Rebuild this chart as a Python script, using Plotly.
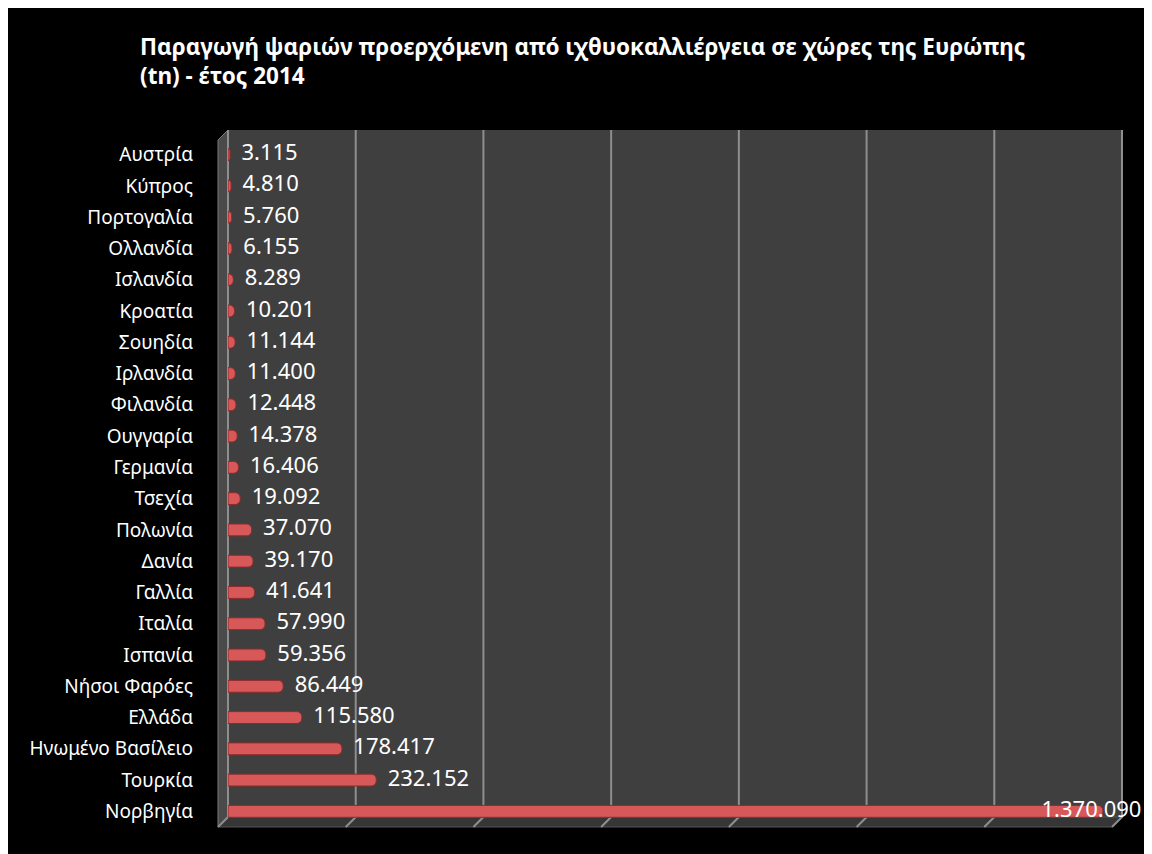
import plotly.graph_objects as go

# ---- data (top to bottom as shown) ----
countries = ["Αυστρία", "Κύπρος", "Πορτογαλία", "Ολλανδία", "Ισλανδία", "Κροατία",
             "Σουηδία", "Ιρλανδία", "Φιλανδία", "Ουγγαρία", "Γερμανία", "Τσεχία",
             "Πολωνία", "Δανία", "Γαλλία", "Ιταλία", "Ισπανία", "Νήσοι Φαρόες",
             "Ελλάδα", "Ηνωμένο Βασίλειο", "Τουρκία", "Νορβηγία"]
production = [3115, 4810, 5760, 6155, 8289, 10201, 11144, 11400, 12448, 14378, 16406,
              19092, 37070, 39170, 41641, 57990, 59356, 86449, 115580, 178417, 232152,
              1370090]
grid_ticks = [0, 200000, 400000, 600000, 800000, 1000000, 1200000, 1400000]
title_text = ("Παραγωγή ψαριών προερχόμενη από ιχθυοκαλλιέργεια σε χώρες της Ευρώπης"
              "<br>(tn) - έτος 2014")

W, H = 1144, 846
ML, MR, MT, MB = 220, 30, 131, 27
PW, PH = W - ML - MR, H - MT - MB
XMAX = 1400000


def px(x):
    return (x - ML) / PW


def py(y):
    return (H - MB - y) / PH


labels = ["  " + f"{v:,}".replace(",", ".") for v in production[:-1]]
labels.append(f"{production[-1]:,}".replace(",", ".") + "    ")
positions = ["middle right"] * (len(production) - 1) + ["middle center"]

fig = go.Figure()
fig.add_trace(go.Bar(
    x=production, y=countries, orientation="h",
    marker=dict(color="#d65858", line=dict(color="#8e2b2b", width=1), cornerradius=5),
    hoverinfo="skip",
))
fig.add_trace(go.Scatter(
    x=production, y=countries, mode="text", text=labels,
    textposition=positions,
    textfont=dict(color="white", size=22, family="Noto Sans"),
    cliponaxis=False, hoverinfo="skip",
))

shapes = []
# back wall
shapes.append(dict(type="rect", xref="paper", yref="paper", x0=px(220), x1=px(1114),
                   y0=py(809), y1=py(122), fillcolor="#3f3f3f", line_width=0, layer="below"))
# floor
shapes.append(dict(type="path", xref="paper", yref="paper",
                   path=(f"M {px(220)} {py(809)} L {px(1114)} {py(809)} "
                         f"L {px(1104)} {py(819)} L {px(210)} {py(819)} Z"),
                   fillcolor="#363636", line=dict(color="#555555", width=1), layer="below"))
# left wall
shapes.append(dict(type="path", xref="paper", yref="paper",
                   path=(f"M {px(210)} {py(132)} L {px(220)} {py(122)} "
                         f"L {px(220)} {py(809)} L {px(210)} {py(819)} Z"),
                   fillcolor="#4a4a4a", line=dict(color="#7a7a7a", width=1), layer="below"))
# gridlines on back wall with slanted floor ticks
for t in grid_ticks:
    xp = t / XMAX
    shapes.append(dict(type="path", xref="paper", yref="paper",
                       path=(f"M {xp} {py(122)} L {xp} {py(809)} "
                             f"L {xp - 10 / PW} {py(819)}"),
                       line=dict(color="#8e8e8e", width=2), layer="below"))

fig.update_layout(
    width=W, height=H,
    margin=dict(l=ML, r=MR, t=MT, b=MB, pad=0),
    paper_bgcolor="black", plot_bgcolor="rgba(0,0,0,0)",
    showlegend=False, bargap=0.62,
    title=dict(text=title_text, x=132 / W, xanchor="left", xref="container",
               y=1 - 47 / H, yanchor="top", yref="container",
               font=dict(color="white", size=22.5, family="Noto Sans", weight="bold")),
    xaxis=dict(range=[0, XMAX], showticklabels=False, showgrid=False,
               zeroline=False, showline=False, fixedrange=True),
    yaxis=dict(range=[len(countries) - 0.5, -0.5], showgrid=False, zeroline=False,
               showline=False, ticks="", ticklabelstandoff=34,
               tickfont=dict(color="white", size=19, family="Noto Sans")),
    shapes=shapes,
)

fig.write_html("out.html")
